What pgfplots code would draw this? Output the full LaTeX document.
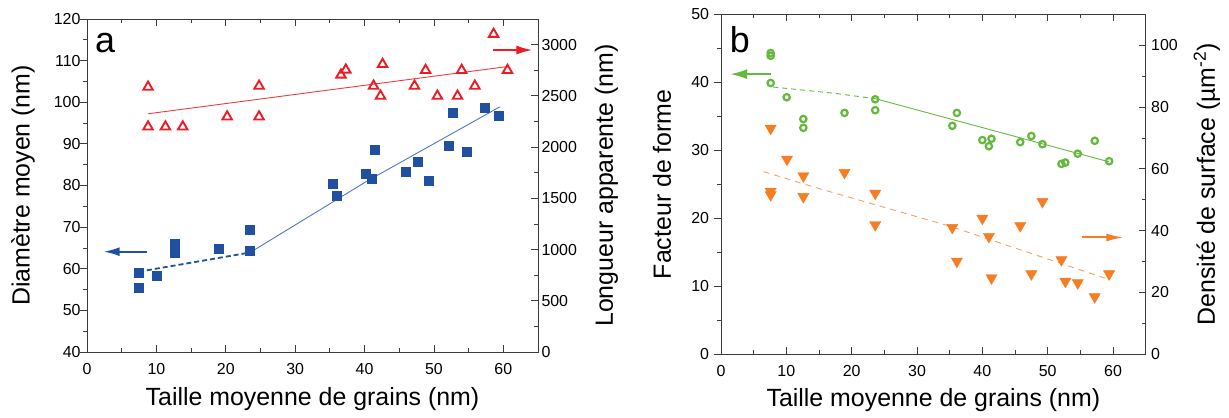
\documentclass[border=0pt]{standalone}
\usepackage{fontspec}
\setmainfont{Liberation Sans}
\usepackage{pgfplots}
\pgfplotsset{compat=1.18}
\usetikzlibrary{arrows.meta}

\definecolor{bluem}{RGB}{34,80,160}
\definecolor{bluel}{RGB}{80,120,200}
\definecolor{redm}{RGB}{237,28,36}
\definecolor{redl}{RGB}{235,60,60}
\definecolor{greenm}{RGB}{100,185,60}
\definecolor{orangem}{RGB}{245,125,35}
\definecolor{orangel}{RGB}{245,160,100}
\definecolor{axgray}{RGB}{60,60,60}

\tikzset{arr/.style={line width=2bp, -{Latex[length=16bp,width=9bp]}}}

\pgfplotsset{
  base/.style={
    scale only axis,
    xmin=0, xmax=65,
    xtick={0,10,...,60}, minor xtick={5,15,...,65},
    tick align=inside,
    /pgf/number format/assume math mode=true,
    /pgf/number format/1000 sep={},
    scaled y ticks=false,
    tick label style={font=\fontsize{16}{18}\selectfont},
    label style={font=\fontsize{25}{28}\selectfont},
    major tick length=7bp, minor tick length=4bp,
    axis line style={-, line width=0.8bp, axgray},
    every tick/.style={line width=0.8bp, axgray},
    clip=false,
  },
}

\pgfplotstableread{
x y
7.5 59.0
7.5 55.4
10.0 58.3
12.6 63.8
12.6 64.8
12.6 65.9
19.0 64.9
23.5 69.5
23.5 64.3
35.4 80.5
36.0 77.5
40.1 82.8
41.1 81.6
41.4 88.5
45.9 83.3
47.6 85.8
49.3 81.2
52.2 89.5
52.7 97.5
54.7 88.1
57.3 98.8
59.4 96.8
}\diam

\pgfplotstableread{
x y
8.8 2586
8.8 2198
11.3 2198
13.8 2198
20.2 2296
24.8 2596
24.8 2296
36.6 2704
37.3 2753
41.3 2596
42.3 2498
42.6 2808
47.2 2596
48.8 2750
50.5 2498
53.4 2498
54.0 2750
55.9 2596
58.6 3102
60.6 2750
}\longueur

\pgfplotstableread{
x y
7.6 44.3
7.6 43.9
7.6 39.9
10.05 37.8
12.6 34.6
12.6 33.3
18.9 35.5
23.6 37.5
23.6 35.9
35.4 33.6
36.1 35.5
40.0 31.5
41.0 30.6
41.4 31.7
45.8 31.2
47.5 32.1
49.2 30.9
52.1 28.0
52.7 28.2
54.6 29.5
57.2 31.4
59.4 28.4
}\facteur

\pgfplotstableread{
x y
7.6 73.1
7.6 52.7
7.6 51.6
10.1 63.1
12.6 57.7
12.6 51.0
18.9 58.8
23.6 52.1
23.6 41.9
35.4 41.0
36.1 30.1
40.0 44.0
41.0 38.1
41.4 24.7
45.8 41.6
47.5 26.0
49.2 49.4
52.1 30.6
52.7 23.6
54.6 23.1
57.2 18.6
59.4 26.0
}\densite

\begin{document}
\begin{tikzpicture}
\useasboundingbox (0,0) rectangle (1229bp,418bp);

% ---------------- Panel a, left axis ----------------
\begin{axis}[base,
  at={(87bp,66bp)}, anchor=south west,
  width=451bp, height=333bp,
  ymin=40, ymax=120,
  ytick={40,50,...,120}, minor ytick={45,55,...,115},
  xtick pos=both, ytick pos=left,
  every major y tick/.append style={xshift=-7bp},
  every minor y tick/.append style={xshift=-4bp},
  yticklabel style={xshift=-3bp},
  xticklabel style={yshift=-8bp},
  xlabel={Taille moyenne de grains (nm)},
  ylabel={Diamètre moyen (nm)},
  xlabel style={at={(axis description cs:0.5,-0.141)}, anchor=center},
  ylabel style={at={(axis description cs:-0.142,0.5)}, anchor=center},
]
\addplot[only marks, mark=square*, mark size=4.5bp, bluem, mark options={fill=bluem, draw=bluem}] table[x=x,y=y] {\diam};
\addplot[bluem, line width=1.8bp, dash pattern=on 5bp off 3bp] coordinates {(7.5,59.3) (23.5,63.9)};
\addplot[bluel, line width=0.9bp] coordinates {(23.5,63.9) (40.3,81.0) (59.5,98.9)};
\draw[bluem, arr] (axis cs:8.7,64.1) -- (axis cs:2.4,64.1);
\node[font=\fontsize{36}{40}\selectfont] at (axis cs:2.6,114.2) {a};
\end{axis}

% ---------------- Panel a, right axis ----------------
\begin{axis}[base,
  at={(87bp,66bp)}, anchor=south west,
  width=451bp, height=333bp,
  axis x line=none, axis y line*=right,
  ymin=0, ymax=3250,
  ytick={0,500,...,3000}, minor ytick={250,750,...,3250},
  ylabel={Longueur apparente (nm)},
  ylabel style={at={(axis description cs:1.152,0.5)}, anchor=center, rotate=0},
]
\addplot[redl, line width=0.9bp] coordinates {(8.8,2325) (60.6,2786)};
\addplot[only marks, redm, line width=1.9bp, mark=triangle, mark size=5.5bp, mark options={line width=1.9bp, draw=redm, fill=none}] table[x=x,y=y] {\longueur};
\draw[redm, arr] (axis cs:58.5,2947) -- (axis cs:64.2,2947);
\end{axis}

% ---------------- Panel b, left axis ----------------
\begin{axis}[base,
  at={(721bp,63.7bp)}, anchor=south west,
  width=424.7bp, height=340bp,
  ymin=0, ymax=50,
  ytick={0,10,...,50}, minor ytick={5,15,...,45},
  xtick pos=both, ytick pos=left,
  every major y tick/.append style={xshift=-7bp},
  every minor y tick/.append style={xshift=-4bp},
  yticklabel style={xshift=-8.5bp},
  xticklabel style={yshift=-8bp},
  xlabel={Taille moyenne de grains (nm)},
  ylabel={Facteur de forme},
  xlabel style={at={(axis description cs:0.5,-0.134)}, anchor=center},
  ylabel style={at={(axis description cs:-0.139,0.5)}, anchor=center},
]
\addplot[greenm, line width=0.9bp, dash pattern=on 5bp off 4bp] coordinates {(8.0,39.3) (17.2,38.4) (23.6,37.6)};
\addplot[greenm, line width=0.9bp] coordinates {(23.6,37.6) (59.4,28.3)};
\addplot[only marks, greenm, line width=2.2bp, mark=o, mark size=3.2bp, mark options={line width=2.2bp, draw=greenm, fill=none}] table[x=x,y=y] {\facteur};
\draw[greenm, line width=2bp, -{Latex[length=17bp,width=10bp]}] (axis cs:7.7,41.2) -- (axis cs:1.4,41.2);
\node[font=\fontsize{36}{40}\selectfont] at (axis cs:2.9,46.2) {b};
\end{axis}

% ---------------- Panel b, right axis ----------------
\begin{axis}[base,
  at={(721bp,63.7bp)}, anchor=south west,
  width=424.7bp, height=340bp,
  axis x line=none, axis y line*=right,
  ymin=0, ymax=110,
  ytick={0,20,...,100}, minor ytick={10,30,...,110},
  yticklabel style={xshift=2bp},
  ylabel={Densité de surface (µm\textsuperscript{-2})},
  ylabel style={at={(axis description cs:1.144,0.5)}, anchor=center, rotate=0},
]
\addplot[orangel, line width=0.9bp, dash pattern=on 6bp off 5bp] coordinates {(6.5,59.1) (15.2,53.5) (35.1,41.4) (59.1,24.4)};
\addplot[only marks, orangem, mark=triangle*, mark size=6.5bp, mark options={rotate=180, fill=orangem, draw=orangem}] table[x=x,y=y] {\densite};
\draw[orangem, line width=2bp, -{Latex[length=17bp,width=8bp]}] (axis cs:55.2,37.8) -- (axis cs:61.6,37.8);
\end{axis}
\end{tikzpicture}
\end{document}
